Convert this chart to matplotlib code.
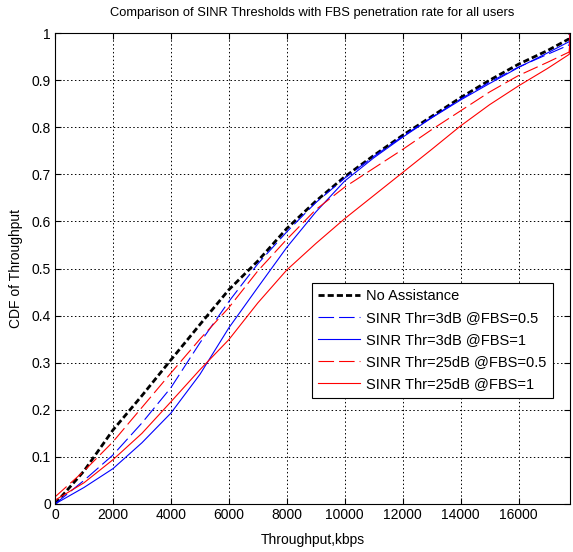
import matplotlib
matplotlib.use("Agg")
import numpy as np
import matplotlib.pyplot as plt

plt.rcParams['font.family'] = ['Liberation Sans', 'DejaVu Sans']

# Throughput sample points (kbps), last point closes the CDF at 1
throughput = [0, 1000, 2000, 3000, 4000, 5000, 6000, 7000, 8000, 9000,
              10000, 11000, 12000, 13000, 14000, 15000, 16000, 17000, 17750, 17780]

no_assist = [0.0, 0.07, 0.157, 0.23, 0.306, 0.381, 0.455, 0.516, 0.585, 0.643,
             0.695, 0.74, 0.783, 0.823, 0.863, 0.9, 0.934, 0.963, 0.988, 1.0]
thr3_fbs05 = [0.0, 0.05, 0.104, 0.172, 0.247, 0.342, 0.43, 0.51, 0.578, 0.64,
              0.692, 0.738, 0.781, 0.821, 0.86, 0.896, 0.928, 0.955, 0.975, 1.0]
thr3_fbs1 = [0.0, 0.035, 0.075, 0.13, 0.193, 0.275, 0.374, 0.46, 0.545, 0.62,
             0.686, 0.735, 0.779, 0.82, 0.858, 0.893, 0.927, 0.958, 0.982, 1.0]
thr25_fbs05 = [0.015, 0.07, 0.132, 0.205, 0.278, 0.35, 0.417, 0.495, 0.562, 0.625,
               0.673, 0.713, 0.753, 0.795, 0.835, 0.875, 0.91, 0.938, 0.96, 1.0]
thr25_fbs1 = [0.008, 0.045, 0.094, 0.15, 0.217, 0.285, 0.349, 0.427, 0.497, 0.553,
              0.606, 0.655, 0.704, 0.753, 0.803, 0.848, 0.888, 0.925, 0.955, 1.0]

labels = ['No Assistance', 'SINR Thr=3dB @FBS=0.5', 'SINR Thr=3dB @FBS=1',
          'SINR Thr=25dB @FBS=0.5', 'SINR Thr=25dB @FBS=1']

fig = plt.figure(figsize=(5.73, 5.52), dpi=100)
ax = fig.add_axes([0.096, 0.087, 0.899, 0.853])

ax.plot(throughput, no_assist, color='black', lw=2.0, dashes=(2.2, 1.1), label=labels[0])
ax.plot(throughput, thr3_fbs05, color='blue', lw=0.8, dashes=(14, 4.5), label=labels[1])
ax.plot(throughput, thr3_fbs1, color='blue', lw=0.8, label=labels[2])
ax.plot(throughput, thr25_fbs05, color='red', lw=0.8, dashes=(14, 4.5), label=labels[3])
ax.plot(throughput, thr25_fbs1, color='red', lw=0.8, label=labels[4])

ax.set_xlim(0, throughput[-1])
ax.set_ylim(0, 1)
ax.set_xticks(np.arange(0, 16001, 2000))
ax.set_yticks(np.arange(0, 1.01, 0.1))
ax.set_yticklabels(['0', '0.1', '0.2', '0.3', '0.4', '0.5', '0.6', '0.7', '0.8', '0.9', '1'])
ax.tick_params(direction='in', top=True, right=True, labelsize=10, length=4, width=0.8, pad=3)
ax.grid(True, color='black', linestyle=(0, (1.5, 2.5)), linewidth=0.7)
for s in ax.spines.values():
    s.set_linewidth(0.8)

ax.set_xlabel('Throughput,kbps', fontsize=10, labelpad=8)
ax.set_ylabel('CDF of Throughput', fontsize=10, labelpad=6)
ax.set_title('Comparison of SINR Thresholds with FBS penetration rate for all users',
             fontsize=9.3, pad=12)

leg = ax.legend(loc='lower right', bbox_to_anchor=(0.967, 0.225), fontsize=10.5,
                frameon=True, fancybox=False, edgecolor='black', framealpha=1,
                handlelength=2.9, handletextpad=0.4, borderpad=0.45, labelspacing=0.55,
                borderaxespad=0)
leg.get_frame().set_linewidth(0.8)

fig.savefig('out.png', dpi=100)
